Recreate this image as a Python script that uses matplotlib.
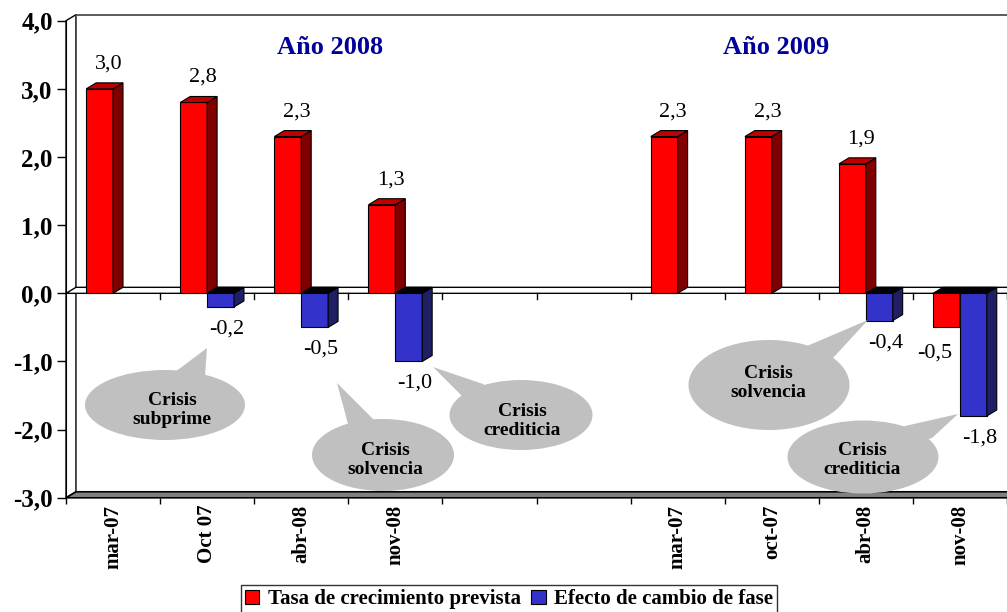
import numpy as np
import matplotlib
matplotlib.use('Agg')
import matplotlib.pyplot as plt
from matplotlib.patches import Polygon, Ellipse, Rectangle, Patch
from matplotlib.transforms import Affine2D

# data
categories = ['mar-07', 'Oct 07', 'abr-08', 'nov-08', '', '',
              'mar-07', 'oct-07', 'abr-08', 'nov-08']
tasa = [3.0, 2.8, 2.3, 1.3, np.nan, np.nan, 2.3, 2.3, 1.9, -0.5]
efecto = [np.nan, -0.2, -0.5, -1.0, np.nan, np.nan, np.nan, np.nan, -0.4, -1.8]
year_titles = ['Año 2008', 'Año 2009']
yticks = [-3, -2, -1, 0, 1, 2, 3, 4]
series_names = ['Tasa de crecimiento prevista', 'Efecto de cambio de fase']

# colours (front, side, top)
RED = ('#FF0000', '#800000', '#C00000')
BLUE = ('#3333CC', '#1F1F66', '#000000')

plt.rcParams['font.family'] = ['Liberation Serif', 'DejaVu Serif']

W, H = 1007, 612
fig = plt.figure(figsize=(W / 100, H / 100), dpi=100)

# front plane of the plot, in pixels
left_px, top_px, bot_px = 66, 20.7, 497.8
slot_px = 94.6
ax = fig.add_axes([left_px / W, 1 - bot_px / H, (W - left_px) / W, (bot_px - top_px) / H])
ax.set_xlim(-0.5, -0.5 + (W - left_px) / slot_px)
ax.set_ylim(-3, 4)
unit_px = (bot_px - top_px) / 7

# 3d depth offset
DX = 10 / slot_px
DY = 6 / unit_px
BW = 27 / slot_px
XR = 12

# pixel coords (y down) -> display
pix = Affine2D().scale(1 / 100, -1 / 100).translate(0, H / 100) + fig.dpi_scale_trans

for s in ['top', 'right', 'bottom']:
    ax.spines[s].set_visible(False)
ax.spines['left'].set_zorder(6)

# walls and floors
ax.add_patch(Polygon([(-0.5, -3), (-0.5 + DX, -3 + DY), (-0.5 + DX, 4 + DY), (-0.5, 4)],
                     fc='white', ec='black', lw=1, clip_on=False, zorder=1))
ax.plot([-0.5 + DX, XR], [4 + DY, 4 + DY], color='#404040', lw=1.2, clip_on=False, zorder=1)
ax.add_patch(Polygon([(-0.5, -3), (-0.5 + DX, -3 + DY), (XR, -3 + DY), (XR, -3)],
                     fc='#808080', ec='black', lw=1.2, clip_on=False, zorder=2))
ax.add_patch(Polygon([(-0.5, 0), (-0.5 + DX, DY), (XR, DY), (XR, 0)],
                     fc='white', ec='black', lw=1, clip_on=False, zorder=2))

# ticks on the zero line at category boundaries
for b in np.arange(0.5, len(categories), 1.0):
    ax.plot([b, b], [0, -6 / unit_px], color='black', lw=1, zorder=2)


def bar3d(x0, v, cols):
    x1 = x0 + BW
    front, side, top = cols
    ax.add_patch(Rectangle((x0, 0), BW, v, fc=front, ec='black', lw=0.8, zorder=3))
    ax.add_patch(Polygon([(x1, 0), (x1 + DX, DY), (x1 + DX, v + DY), (x1, v)],
                         fc=side, ec='black', lw=0.8, zorder=3))
    t = max(v, 0)
    ax.add_patch(Polygon([(x0, t), (x0 + DX, t + DY), (x1 + DX, t + DY), (x1, t)],
                         fc=top if v > 0 else 'black', ec='black', lw=0.8, zorder=3))


def label(x, v, dxp, dyp):
    txt = f'{v:.1f}'.replace('.', ',')
    ax.annotate(txt, (x, v), xytext=(dxp * 0.72, dyp * 0.72), textcoords='offset points',
                ha='center', va='center', fontsize=16, zorder=7)


for i in range(len(categories)):
    if not np.isnan(tasa[i]):
        bar3d(i - BW, tasa[i], RED)
    if not np.isnan(efecto[i]):
        bar3d(i, efecto[i], BLUE)

for i in range(len(categories)):
    if not np.isnan(tasa[i]):
        if tasa[i] > 0:
            label(i - BW / 2, tasa[i], 9, 25)
        else:
            label(i - BW / 2, tasa[i], -12, -26)
    if not np.isnan(efecto[i]):
        label(i + BW / 2, efecto[i], 6, -22)

# axes ticks
ax.set_yticks(yticks)
ax.set_yticklabels([f'{v:.1f}'.replace('.', ',') for v in yticks],
                   fontsize=18, fontweight='bold')
ax.tick_params(axis='y', length=6.5, width=1, pad=3)
ax.set_xticks(range(len(categories)))
ax.set_xticklabels(categories, rotation=90, fontsize=15, fontweight='bold', va='top')
ax.set_xticks(np.arange(-0.5, len(categories), 1.0), minor=True)
ax.tick_params(axis='x', which='major', length=0, pad=5)
ax.tick_params(axis='x', which='minor', length=4.3, width=1)

# year titles
for txt, xp in zip(year_titles, [330, 776]):
    fig.text(xp, 47, txt, transform=pix, ha='center', va='center', fontsize=19,
             fontweight='bold', color='#000099')

# speech bubbles: text, centre, size, tip, base points, text centre (pixels)
callouts = [
    ('Crisis\nsubprime', (165, 405), (160, 70), (207, 348), [(175, 372), (205, 376)], (172, 410)),
    ('Crisis\nsolvencia', (383, 455), (142, 72), (337, 383), [(348, 424), (375, 421)], (385, 460)),
    ('Crisis\ncrediticia', (521, 415), (143, 70), (433, 367), [(462, 396), (483, 384)], (522, 421)),
    ('Crisis\nsolvencia', (769, 385), (161, 90), (868, 320), [(807, 346), (833, 358)], (768, 383)),
    ('Crisis\ncrediticia', (863, 457), (151, 73), (958, 414), [(905, 426), (932, 438)], (862, 460)),
]
for txt, c, sz, tip, base, tc in callouts:
    fig.patches.append(Ellipse(c, sz[0], sz[1], transform=pix, fc='#C0C0C0', ec='none', zorder=8))
    fig.patches.append(Polygon([base[0], tip, base[1], c], closed=True, transform=pix,
                               fc='#C0C0C0', ec='none', zorder=8))
    fig.text(tc[0], tc[1], txt, transform=pix, ha='center', va='center', fontsize=14,
             fontweight='bold', linespacing=1.15, zorder=9)

# legend
handles = [Patch(fc=RED[0], ec='black', lw=0.8), Patch(fc=BLUE[0], ec='black', lw=0.8)]
leg = fig.legend(handles, series_names, loc='upper center', ncol=2,
                 bbox_to_anchor=(509 / W, 1 - 585 / H), borderaxespad=0,
                 frameon=True, fancybox=False,
                 prop={'size': 15, 'weight': 'bold'}, handlelength=0.7, handleheight=0.7,
                 handletextpad=0.4, columnspacing=0.5, borderpad=0.2)
leg.get_frame().set_edgecolor('black')
leg.get_frame().set_linewidth(1)

fig.savefig('out.png', dpi=100)
